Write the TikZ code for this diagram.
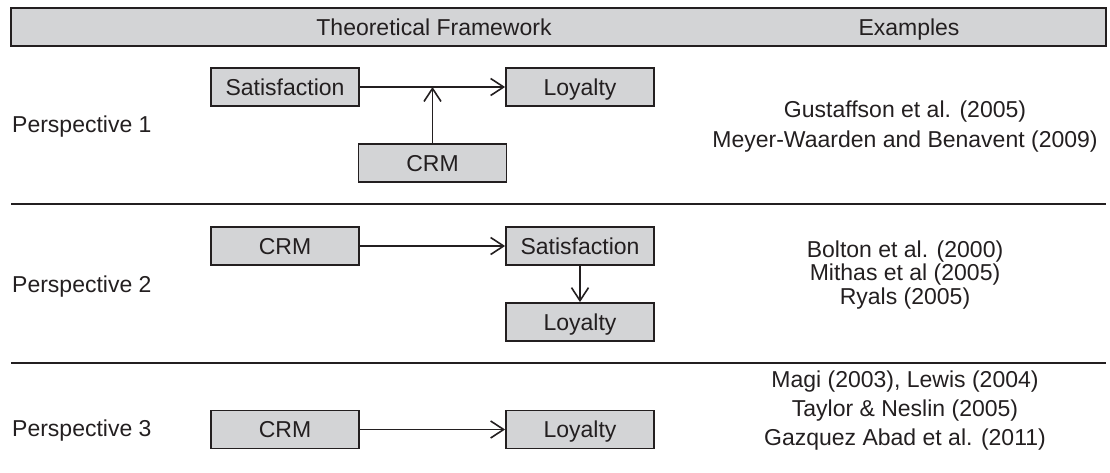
\documentclass[tikz,border=0pt]{standalone}
\usepackage{fontspec}
\setmainfont{Liberation Sans}
\usetikzlibrary{arrows.meta}
\definecolor{boxgray}{RGB}{211,212,214}
\definecolor{ink}{RGB}{35,31,32}
\begin{document}
\begin{tikzpicture}[x=1pt,y=-1pt,
  every node/.style={text=ink},
  txt/.style={font=\fontsize{23}{28}\selectfont, inner sep=0pt, anchor=base},
  factor/.style={draw=ink, line width=1.8pt, fill=boxgray, minimum width=148pt,
    minimum height=38pt, inner sep=0pt, text height=16.5pt, text depth=0pt,
    font=\fontsize{23}{28}\selectfont},
  rule/.style={draw=ink, line width=1.8pt},
  link/.style={draw=ink, line width=1.6pt, -{Straight Barb[length=13pt,width=17pt,line width=1.6pt]}}]
\useasboundingbox (0,0) rectangle (1110,472);

% header bar
\draw[rule, fill=boxgray] (11,8) rectangle (1106,46);
\node[txt] (hdrA) at (434,35.5) {Theoretical Framework};
\node[txt] (hdrB) at (909,35.5) {Examples};

% section dividers
\draw[rule] (11,204) -- (1106,204);
\draw[rule] (11,363) -- (1106,363);

% row labels
\node[txt, anchor=base west] (p1) at (12,132) {Perspective 1};
\node[txt, anchor=base west] (p2) at (12,292) {Perspective 2};
\node[txt, anchor=base west] (p3) at (12,436) {Perspective 3};

% perspective 1: CRM moderates satisfaction -> loyalty
\node[factor] (sat1) at (285,87) {Satisfaction};
\node[factor] (loy1) at (580,87) {Loyalty};
\node[factor] (crm1) at (432.5,163) {CRM};
\draw[link] (sat1.east) -- (loy1.west);
\draw[link] (crm1.north) -- (crm1.north |- sat1.east);

% perspective 2: CRM -> satisfaction -> loyalty
\node[factor] (crm2) at (285,246) {CRM};
\node[factor] (sat2) at (580,246) {Satisfaction};
\node[factor] (loy2) at (580,322) {Loyalty};
\draw[link] (crm2.east) -- (sat2.west);
\draw[link] (sat2.south) -- (loy2.north);

% perspective 3: CRM -> loyalty
\node[factor] (crm3) at (285,429.5) {CRM};
\node[factor] (loy3) at (580,429.5) {Loyalty};
\draw[link] (crm3.east) -- (loy3.west);

% example references
\node[txt] (ex1a) at (905,117) {Gustaffson et al. (2005)};
\node[txt] (ex1b) at (905,147) {Meyer-Waarden and Benavent (2009)};
\node[txt] (ex2a) at (905,257) {Bolton et al. (2000)};
\node[txt] (ex2b) at (905,280.5) {Mithas et al (2005)};
\node[txt] (ex2c) at (905,304) {Ryals (2005)};
\node[txt] (ex3a) at (905,387) {Magi (2003), Lewis (2004)};
\node[txt] (ex3b) at (905,416) {Taylor \& Neslin (2005)};
\node[txt] (ex3c) at (905,445) {Gazquez Abad et al. (2011)};
\end{tikzpicture}
\end{document}
